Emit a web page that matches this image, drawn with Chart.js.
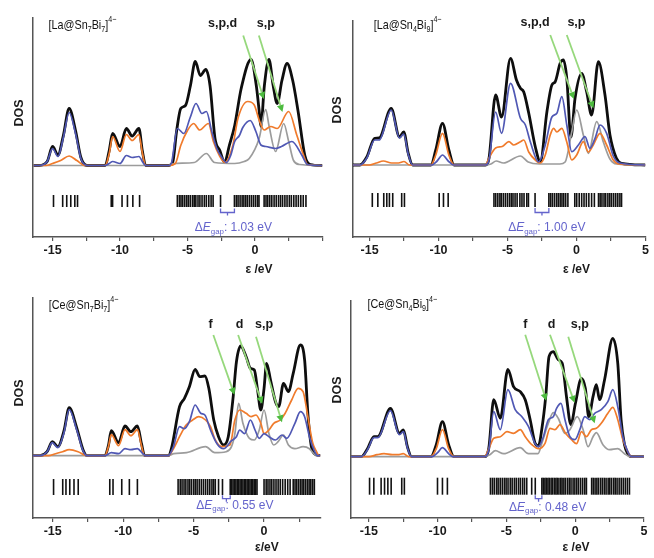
<!DOCTYPE html>
<html>
<head>
<meta charset="utf-8">
<script src="https://cdn.jsdelivr.net/npm/chart.js@4.4.1/dist/chart.umd.min.js"></script>
<style>
  html, body { margin: 0; padding: 0; background: #fff; }
  #wrap { position: relative; width: 654px; height: 558px; overflow: hidden; }
  canvas { position: absolute; }
</style>
</head>
<body>
<div id="wrap">
  <canvas id="tl" width="330" height="280" style="left:0;top:0"></canvas>
  <canvas id="tr" width="329" height="280" style="left:325px;top:0"></canvas>
  <canvas id="bl" width="330" height="278" style="left:0;top:280px"></canvas>
  <canvas id="br" width="329" height="278" style="left:325px;top:280px"></canvas>
</div>
<script>
// DOS curves, [energy eV, DOS a.u.]
const tlBlack = [[-16.4,0],[-16.0,0],[-15.4,4],[-15.0,19],[-14.6,10.5],[-14.2,30],[-13.77,57],[-13.3,35],[-12.9,8],[-12.45,0],[-11.1,0],[-10.8,15],[-10.55,32],[-10.0,19],[-9.53,37],[-9.1,29.5],[-8.6,37],[-8.35,15],[-8.1,0],[-6.4,0],[-6.1,3],[-5.8,35],[-5.5,57],[-5.15,60],[-4.78,80],[-4.42,104],[-4.05,90],[-3.64,96],[-3.33,80],[-2.96,27],[-2.6,15],[-2.25,3],[-1.9,20],[-1.5,40],[-1.02,77],[-0.29,106],[0.1,80],[0.31,55],[0.44,39],[0.7,80],[1.04,106],[1.35,80],[1.65,62],[2.0,85],[2.38,102],[2.8,85],[3.2,54],[3.7,10],[4.1,1],[5,0]];
const tlBlue = [[-16.4,0],[-16.0,0],[-15.4,4],[-15.0,17],[-14.6,9],[-14.2,28],[-13.77,53],[-13.3,32],[-12.9,7],[-12.45,0],[-11.1,0],[-10.8,2],[-10.55,4],[-10.0,2],[-9.53,10],[-9.1,8],[-8.6,9],[-8.3,3],[-8.1,0],[-6.4,0],[-6.2,2],[-5.75,37],[-5.27,32],[-4.8,48],[-4.37,62],[-3.93,52],[-3.6,54],[-3.2,34],[-2.84,17.5],[-2.5,9],[-2.1,3],[-1.8,10],[-1.5,24],[-1.15,30],[-0.9,38],[-0.35,45],[0.07,34],[0.44,20.5],[0.8,19],[1.53,17],[1.97,19],[2.74,24],[3.47,10.5],[3.9,1],[5,0]];
const tlOrange = [[-16.4,0],[-15.5,0],[-15.0,2],[-14.4,5],[-13.77,9.5],[-13.2,5],[-12.6,0],[-11.1,0],[-10.8,12],[-10.55,29],[-10.0,14],[-9.53,31],[-9.1,25],[-8.6,31],[-8.35,13],[-8.1,0],[-6.4,0],[-5.9,2],[-5.5,20],[-5.0,35],[-4.54,42],[-4.1,35.5],[-3.45,42],[-3.08,24],[-2.6,9],[-2.24,3],[-1.63,20.5],[-1.26,47],[-0.53,64],[-0.05,60.5],[0.31,45.5],[0.68,35.5],[1.17,39],[1.65,37],[2.5,54],[3.1,30.5],[3.6,10.5],[3.9,1],[5,0]];
const tlGray = [[-16.4,0],[-6.4,0],[-6.0,2],[-4.5,3],[-3.6,12],[-3.0,3],[-1.5,2],[-0.8,4],[-0.42,7],[0.31,27],[0.8,56],[1.04,40],[1.53,14],[2.13,42],[2.5,24],[2.86,5],[3.3,1],[5,0]];

const trBlack = [[-16.2,0],[-15.7,0],[-15.2,8],[-14.63,26.7],[-14.3,27],[-13.43,56.7],[-12.83,28],[-12.52,33],[-12.2,12],[-11.87,0],[-10.55,0],[-10.2,15],[-9.71,41.7],[-9.25,15],[-8.87,0],[-6.6,0],[-6.34,6.7],[-5.86,70],[-5.43,48],[-4.78,106.7],[-4.35,85],[-4.06,76.7],[-3.82,73],[-3.46,52],[-2.98,18],[-2.62,3.3],[-2.14,53.3],[-1.78,80],[-1.54,83.3],[-1.18,101.7],[-0.94,105],[-0.7,86.7],[-0.4,28],[-0.1,66.7],[0.38,91.7],[0.74,73.3],[1.1,50],[1.59,103.3],[2.07,70],[2.43,30],[2.9,6.7],[3.27,1.7],[5,0]];
const trBlue = [[-16.2,0],[-15.7,0],[-15.2,7],[-14.63,25],[-14.3,25],[-13.43,55],[-12.83,27],[-12.52,31],[-12.2,11],[-11.87,0],[-10.5,0],[-10.1,4],[-9.71,10],[-9.3,4],[-8.9,0],[-6.6,0],[-6.34,5],[-5.86,53],[-5.43,31.7],[-4.78,81.7],[-4.06,46.7],[-3.7,40],[-3.34,23],[-2.74,3],[-2.26,20],[-1.78,48],[-1.42,51.7],[-1.06,68.3],[-0.7,40],[-0.34,13.3],[0.14,20],[0.62,28.3],[0.98,16.7],[1.35,26.7],[1.71,40],[2.19,31.7],[2.67,9],[3.15,2],[5,0]];
const trOrange = [[-16.2,0],[-15.0,0],[-14.5,2],[-14.0,4],[-13.4,2],[-12.9,2],[-12.5,3.5],[-12.1,0],[-10.55,0],[-10.2,10],[-9.71,31.7],[-9.25,10],[-8.87,0],[-6.6,0],[-6.34,7],[-5.86,17],[-5.38,18.5],[-4.9,23.3],[-4.54,20],[-4.06,23.3],[-3.82,25],[-3.46,13],[-2.98,5],[-2.62,2],[-2.26,10],[-1.9,30],[-1.66,36.7],[-1.42,33],[-1.06,36.7],[-0.7,23],[-0.34,5],[0.02,10],[0.5,23.3],[0.86,13],[1.22,20],[1.71,31.7],[2.19,20],[2.67,5],[3.1,1],[5,0]];
const trGray = [[-16.2,0],[-6.6,0],[-6.2,1],[-5.82,4],[-5.3,2],[-4.06,9],[-3.5,3],[-2.7,1],[-1.2,1],[-0.82,3],[-0.34,33],[0.02,55],[0.5,30],[0.86,11.7],[1.47,43.3],[1.95,23],[2.43,6],[2.9,1],[5,0]];

const blBlack = [[-16.4,0],[-15.9,0],[-15.4,4],[-15.03,14],[-14.64,9],[-14.2,25],[-13.83,48],[-13.3,28],[-12.85,6],[-12.57,0],[-11.3,0],[-11.05,10],[-10.84,25],[-10.33,13],[-9.87,29.7],[-9.45,24],[-8.99,29.7],[-8.7,12],[-8.48,0],[-6.8,0],[-6.57,7.4],[-6.0,49],[-5.65,57.4],[-5.3,69],[-4.89,86.4],[-4.56,79],[-4.2,79.7],[-3.92,67.4],[-3.57,35.7],[-3.23,19],[-2.88,10.7],[-2.54,19],[-2.19,59],[-1.96,94],[-1.66,109.7],[-1.27,99],[-0.97,87.4],[-0.69,85.7],[-0.46,65.7],[-0.23,45.7],[0,67.4],[0.18,92.4],[0.46,75.7],[0.81,54],[1.04,49],[1.38,72.4],[1.73,64],[2.07,82.4],[2.58,110.7],[2.88,95.7],[3.11,42.4],[3.34,10.7],[3.57,2],[4.0,0]];
const blBlue = [[-16.4,0],[-15.9,0],[-15.4,4],[-15.03,13],[-14.64,8],[-14.2,23],[-13.83,46],[-13.3,26],[-12.85,5],[-12.57,0],[-11.3,0],[-10.84,3],[-10.33,2],[-9.87,7],[-9.45,6],[-8.99,7],[-8.6,2],[-8.4,0],[-6.8,0],[-6.43,9],[-6.0,29],[-5.65,27],[-5.3,34],[-4.89,50.7],[-4.5,42.4],[-4.2,40.7],[-3.8,25.7],[-3.34,12],[-2.88,7],[-2.31,15],[-1.96,19],[-1.73,25.7],[-1.38,22],[-0.97,35.7],[-0.64,25.7],[-0.34,17.4],[0,22],[0.35,19],[0.81,15.7],[1.27,20.7],[1.61,17.4],[2.19,32.4],[2.58,44],[2.88,39],[3.22,19],[3.57,5],[3.8,0],[4.0,0]];
const blOrange = [[-16.4,0],[-15.3,0],[-14.8,2],[-14.3,4],[-13.83,6],[-13.2,4],[-12.6,0],[-11.3,0],[-11.05,9],[-10.84,21],[-10.33,10],[-9.87,26],[-9.45,20],[-8.99,26],[-8.7,10],[-8.48,0],[-6.8,0],[-6.43,7],[-6.0,19],[-5.53,30.7],[-5.07,35.7],[-4.63,39],[-4.15,35.7],[-3.8,29],[-3.46,15.7],[-3.0,9],[-2.42,10.7],[-2.07,35.7],[-1.73,45.7],[-1.27,42.4],[-0.92,39],[-0.57,40.7],[-0.23,32.4],[0,22],[0.35,25.7],[0.69,32.4],[1.15,35.7],[1.5,42.4],[1.96,55.7],[2.42,67.4],[2.77,64],[3.11,39],[3.46,12.4],[3.69,5],[3.9,0],[4.0,0]];
const blGray = [[-16.4,0],[-6.8,0],[-6.4,2],[-5.5,3],[-4.15,9],[-3.5,3],[-2.7,4],[-2.31,9],[-2.07,22],[-1.8,52.4],[-1.5,32.4],[-1.04,17.4],[-0.69,15.7],[-0.34,25.7],[0,45.7],[0.35,22],[0.69,10.7],[1.0,14],[1.38,20.7],[1.73,10.7],[2.19,7],[2.77,9],[3.22,7],[3.6,1],[4.0,0]];

const brBlack = [[-16.3,0],[-15.55,0],[-15.1,8],[-14.63,20],[-14.35,20],[-13.43,48.4],[-12.78,23.4],[-12.49,26.7],[-12.2,10],[-11.89,0],[-10.49,0],[-10.1,12],[-9.65,35],[-9.2,12],[-8.81,0],[-6.6,0],[-6.28,8.4],[-5.92,57],[-5.44,38.4],[-4.89,87.4],[-4.48,70],[-3.99,65],[-3.63,57],[-3.27,37],[-2.91,13.4],[-2.67,10.7],[-2.43,27],[-2.14,60],[-1.9,100],[-1.59,105],[-1.23,97],[-0.94,93.4],[-0.63,60],[-0.31,32],[0.02,53.4],[0.46,78.4],[0.74,68.4],[0.99,40],[1.3,60],[1.54,72],[1.78,57],[2.14,77],[2.74,118.4],[3.1,93.4],[3.34,37],[3.59,12],[3.83,3],[4.1,0],[5,0]];
const brBlue = [[-16.3,0],[-15.55,0],[-15.1,7],[-14.63,19],[-14.35,19],[-13.43,46],[-12.78,22],[-12.49,25],[-12.2,9],[-11.89,0],[-10.4,0],[-10.0,4],[-9.65,9],[-9.2,3],[-8.9,0],[-6.6,0],[-6.28,7],[-5.92,45],[-5.44,27],[-4.89,67],[-4.36,47],[-3.87,40],[-3.39,30],[-2.91,13],[-2.67,10],[-2.31,20],[-1.95,37],[-1.59,40],[-1.35,48.4],[-1.03,53.4],[-0.74,37],[-0.38,20],[-0.02,17],[0.34,27],[0.7,40],[1.06,37],[1.42,43.4],[1.9,47],[2.38,55],[2.74,67],[3.1,50],[3.47,20],[3.83,5],[4.1,0],[5,0]];
const brOrange = [[-16.3,0],[-15.0,0],[-14.4,2],[-13.9,3],[-13.3,2],[-12.9,2],[-12.5,3],[-12.1,0],[-10.49,0],[-10.1,8],[-9.65,27],[-9.2,8],[-8.81,0],[-6.6,0],[-6.28,8],[-5.92,18.4],[-5.44,20],[-4.96,25],[-4.48,23.4],[-3.99,27],[-3.63,20],[-3.15,12],[-2.67,8],[-2.19,13.4],[-1.83,28.4],[-1.47,27],[-1.1,32],[-0.7,23.4],[-0.26,17],[0.1,13],[0.46,25],[0.82,20],[1.18,27],[1.54,28.4],[1.9,33.4],[2.38,43.4],[2.74,49.4],[3.1,37],[3.47,17],[3.83,5],[4.1,0],[5,0]];
const brGray = [[-16.3,0],[-6.6,0],[-6.2,2],[-5.8,6],[-5.2,3],[-4.0,9],[-3.4,3],[-2.7,3],[-2.43,13],[-1.95,33.4],[-1.59,44],[-1.23,38.4],[-0.74,23.4],[-0.38,27],[0.15,40],[0.58,27],[0.94,10],[1.3,20],[1.54,24],[2.02,12],[2.5,7],[3.1,8],[3.59,3],[4.0,0],[5,0]];

// orbital energy levels (eV)
const tlLevels = [-14.93,-14.25,-13.95,-13.65,-13.35,-13.15,-10.65,-10.55,-9.85,-9.45,-9.05,-8.55,-5.75,-5.6,-5.48,-5.35,-5.2,-5.05,-4.92,-4.78,-4.62,-4.5,-4.38,-4.22,-4.08,-3.92,-3.75,-3.6,-3.42,-3.25,-3.1,-2.55,-1.52,-1.38,-1.25,-1.1,-0.95,-0.82,-0.68,-0.55,-0.4,-0.25,-0.1,0.05,0.2,0.3,0.68,0.82,0.95,1.1,1.25,1.42,1.58,1.75,1.9,2.05,2.22,2.38,2.55,2.7,2.88,3.05,3.22,3.4,3.58,3.78];
const trLevels = [-14.8,-14.4,-13.97,-13.75,-13.56,-13.32,-12.67,-12.47,-9.95,-9.64,-9.3,-5.98,-5.85,-5.7,-5.55,-5.45,-5.3,-5.15,-5.0,-4.85,-4.72,-4.6,-4.45,-4.3,-4.1,-3.95,-3.8,-3.6,-3.48,-3.0,-2.0,-1.88,-1.75,-1.6,-1.45,-1.32,-1.18,-1.05,-0.92,-0.78,-0.62,-0.12,0.02,0.2,0.38,0.55,0.72,0.9,1.1,1.3,1.6,1.72,1.85,2.0,2.12,2.28,2.42,2.55,2.7,2.85,3.0,3.15,3.27];
const blLevels = [-14.94,-14.29,-14.06,-13.79,-13.49,-13.19,-10.95,-10.72,-10.1,-9.56,-8.99,-6.1,-5.95,-5.82,-5.68,-5.55,-5.4,-5.28,-5.15,-5.0,-4.88,-4.75,-4.6,-4.45,-4.3,-4.15,-4.0,-3.85,-3.7,-3.58,-3.46,-3.23,-2.95,-2.4,-2.3,-2.2,-2.1,-2.0,-1.9,-1.8,-1.7,-1.6,-1.5,-1.4,-1.3,-1.2,-1.1,-1.0,-0.9,-0.8,-0.7,-0.6,-0.5,0.0,0.15,0.28,0.42,0.55,0.7,0.85,1.0,1.15,1.32,1.5,1.68,1.85,2.07,2.2,2.32,2.45,2.58,2.7,2.82,2.95,3.08,3.2,3.32,3.45,3.57];
const brLevels = [-14.95,-14.64,-14.11,-13.86,-13.62,-13.38,-12.61,-12.42,-10.01,-9.65,-9.29,-6.16,-6.02,-5.88,-5.72,-5.6,-5.45,-5.3,-5.15,-5.02,-4.88,-4.72,-4.58,-4.42,-4.28,-4.12,-3.98,-3.82,-3.68,-3.52,-3.16,-2.9,-2.42,-2.32,-2.2,-2.1,-1.98,-1.88,-1.75,-1.65,-1.52,-1.4,-1.3,-1.18,-1.05,-0.95,-0.82,-0.7,-0.55,-0.42,-0.3,-0.15,-0.02,0.12,0.25,0.4,0.55,0.7,0.82,1.2,1.32,1.45,1.58,1.7,1.85,1.98,2.12,2.25,2.4,2.52,2.65,2.8,2.92,3.05,3.2,3.35,3.5,3.65,3.8,3.95];

// HOMO, LUMO and the gap text
const tlGap = [-2.55, -1.52, '1.03'];
const trGap = [-3.0, -2.0, '1.00'];
const blGap = [-2.95, -2.4, '0.55'];
const brGap = [-2.9, -2.42, '0.48'];

// orbital labels [text, energy, dos] and arrows [e1, d1, e2, d2]
const tlNotes = [['s,p,d', -2.4, 142], ['s,p', 0.8, 142]];
const tlArrows = [[-0.87, 130, 0.66, 66.5], [0.29, 130, 2.04, 53.5]];
const trNotes = [['s,p,d', -3.0, 142], ['s,p', 0.0, 142]];
const trArrows = [[-1.9, 130, -0.18, 66], [-0.7, 130, 1.23, 56.7]];
const blNotes = [['f', -3.8, 131], ['d', -1.73, 131], ['s,p', 0.0, 131]];
const blArrows = [[-3.6, 120.7, -2.1, 61], [-1.84, 120.7, -0.13, 52], [-0.57, 119, 1.27, 33.5]];
const brNotes = [['f', -3.63, 132], ['d', -1.71, 132], ['s,p', 0.34, 132]];
const brArrows = [[-3.63, 122, -2.1, 56], [-1.83, 122, -0.04, 54], [-0.5, 120, 1.42, 33.4]];

const FONT = '"Liberation Sans", Arial, sans-serif';

function pts(a) { return a.map(p => ({ x: p[0], y: p[1] })); }

function titleParts(el, a, b) {
  return [{ t: '[' + el + '@Sn' }, { t: a, sub: 1 }, { t: 'Bi' }, { t: b, sub: 1 }, { t: ']' }, { t: '4\u2212', sup: 1 }];
}

function fontOf(p, size) {
  const s = (p.sub || p.sup) ? size * 0.66 : size;
  return (p.it ? 'italic ' : '') + s + 'px ' + FONT;
}

function richWidth(ctx, parts, size) {
  let w = 0;
  for (const p of parts) {
    ctx.font = fontOf(p, size);
    w += ctx.measureText(p.t).width;
  }
  return w;
}

// text with sub/superscripts, left edge at x, squeezed horizontally by sx
function rich(ctx, parts, x, y, size, color, sx) {
  ctx.save();
  ctx.translate(x, y);
  ctx.scale(sx, 1);
  let cx = 0;
  ctx.fillStyle = color;
  ctx.textAlign = 'left';
  ctx.textBaseline = 'middle';
  for (const p of parts) {
    ctx.font = fontOf(p, size);
    const dy = p.sub ? size * 0.3 : p.sup ? -size * 0.38 : 0;
    ctx.fillText(p.t, cx, dy);
    cx += ctx.measureText(p.t).width;
  }
  ctx.restore();
}

function arrow(ctx, x1, y1, x2, y2) {
  const ang = Math.atan2(y2 - y1, x2 - x1);
  const hl = 7, hw = 3.6;
  ctx.strokeStyle = '#96d87c';
  ctx.lineWidth = 1.8;
  ctx.beginPath();
  ctx.moveTo(x1, y1);
  ctx.lineTo(x2 - hl * Math.cos(ang), y2 - hl * Math.sin(ang));
  ctx.stroke();
  ctx.fillStyle = '#4dbb3f';
  ctx.beginPath();
  ctx.moveTo(x2, y2);
  ctx.lineTo(x2 - hl * Math.cos(ang) + hw * Math.sin(ang), y2 - hl * Math.sin(ang) - hw * Math.cos(ang));
  ctx.lineTo(x2 - hl * Math.cos(ang) - hw * Math.sin(ang), y2 - hl * Math.sin(ang) + hw * Math.cos(ang));
  ctx.closePath();
  ctx.fill();
}

// draws titles, labels, arrows and the gap bracket
const extras = {
  id: 'extras',
  afterDatasetsDraw(chart) {
    const c = chart.config.options.plugins.extras;
    const ctx = chart.ctx, xs = chart.scales.x, ys = chart.scales.y, area = chart.chartArea;
    const X = v => xs.getPixelForValue(v), Y = v => ys.getPixelForValue(v);
    ctx.save();
    rich(ctx, c.title, X(c.titlePos[0]), Y(c.titlePos[1]), 13.5, '#111', 0.8);

    ctx.save();
    ctx.translate(area.left - c.dos[0], Y(c.dos[1]));
    ctx.rotate(-Math.PI / 2);
    ctx.font = 'bold 12.5px ' + FONT;
    ctx.fillStyle = '#1a1a1a';
    ctx.textAlign = 'center';
    ctx.textBaseline = 'middle';
    ctx.fillText('DOS', 0, 0);
    ctx.restore();

    ctx.font = 'bold 12px ' + FONT;
    ctx.fillStyle = '#1a1a1a';
    ctx.textAlign = 'center';
    ctx.textBaseline = 'middle';
    ctx.fillText(c.xTitle[2], X(c.xTitle[0]), area.bottom + c.xTitle[1]);

    for (const a of c.arrows) arrow(ctx, X(a[0]), Y(a[1]), X(a[2]), Y(a[3]));
    ctx.font = 'bold 12.5px ' + FONT;
    ctx.fillStyle = '#1a1a1a';
    for (const n of c.notes) ctx.fillText(n[0], X(n[1]), Y(n[2]));

    const [h, l, txt] = c.gap;
    const b = c.bracket;
    ctx.strokeStyle = '#6464cc';
    ctx.lineWidth = 1.3;
    ctx.beginPath();
    ctx.moveTo(X(h), Y(b[0]));
    ctx.lineTo(X(h), Y(b[1]));
    ctx.lineTo(X(l), Y(b[1]));
    ctx.lineTo(X(l), Y(b[0]));
    ctx.moveTo((X(h) + X(l)) / 2, Y(b[1]));
    ctx.lineTo((X(h) + X(l)) / 2, Y(b[2]));
    ctx.stroke();

    const parts = [{ t: '\u0394' }, { t: 'E', it: 1 }, { t: 'gap', sub: 1 }, { t: ': ' + txt + ' eV' }];
    const w = richWidth(ctx, parts, 12);
    rich(ctx, parts, X(c.gapLabel[0]) - w / 2, Y(c.gapLabel[1]), 12, '#6464cc', 1);
    ctx.restore();
  }
};

function makePanel(p) {
  new Chart(document.getElementById(p.id), {
    type: 'line',
    data: {
      datasets: [
        { data: pts(p.black), borderColor: '#0e0e0e', borderWidth: 2.8, order: 4 },
        { data: pts(p.gray), borderColor: '#9c9c9c', borderWidth: 1.7, order: 3 },
        { data: pts(p.orange), borderColor: '#f07b2c', borderWidth: 1.7, order: 2 },
        { data: pts(p.blue), borderColor: '#5058b4', borderWidth: 1.7, order: 1 },
        {
          type: 'scatter', order: 0,
          data: p.levels.map(e => ({ x: e, y: p.stick[0] })),
          pointStyle: 'line', pointRotation: 90, pointRadius: p.stick[1],
          pointBorderColor: '#111', pointBorderWidth: 1.6, pointBackgroundColor: '#111'
        }
      ]
    },
    options: {
      responsive: false,
      animation: false,
      events: [],
      layout: { padding: { left: p.pad[0], right: p.pad[1], top: p.pad[2], bottom: 0 } },
      elements: {
        line: { fill: false, cubicInterpolationMode: 'monotone' },
        point: { radius: 0 }
      },
      scales: {
        x: {
          type: 'linear', min: p.xr[0], max: p.xr[1],
          border: { color: '#555', width: 1.5 },
          grid: { drawOnChartArea: false, drawTicks: true, tickLength: 4, color: '#555', lineWidth: 1.2 },
          afterBuildTicks: s => {
            s.ticks = s.ticks.filter(t => Math.abs(t.value / 2.5 - Math.round(t.value / 2.5)) < 1e-6);
          },
          ticks: {
            stepSize: 2.5, includeBounds: false, autoSkip: false, maxRotation: 0, padding: 2, color: '#1a1a1a',
            font: { family: FONT, size: 12.5, weight: 'bold' },
            callback: v => (Math.abs(v % 5) < 1e-6 && !(p.hide5 && v === 5)) ? String(v) : ''
          },
          afterFit: s => { s.height = p.xh; s.paddingLeft = 0; s.paddingRight = 0; }
        },
        y: {
          min: p.yr[0], max: p.yr[1],
          border: { color: '#555', width: 1.5 },
          grid: { display: false },
          ticks: { display: false },
          afterFit: s => { s.width = 0; s.paddingTop = 0; s.paddingBottom = 0; }
        }
      },
      plugins: {
        legend: { display: false },
        tooltip: { enabled: false },
        extras: {
          title: p.title, titlePos: p.titlePos, dos: p.dos, xTitle: p.xTitle,
          notes: p.notes, arrows: p.arrows, gap: p.gap, bracket: p.bracket, gapLabel: p.gapLabel
        }
      }
    },
    plugins: [extras]
  });
}

makePanel({ id: 'tl', title: titleParts('La', '7', '7'), xr: [-16.45, 5], yr: [-71.5, 147.5], pad: [33, 2, 18], xh: 43, hide5: true,
  black: tlBlack, blue: tlBlue, orange: tlOrange, gray: tlGray, levels: tlLevels, stick: [-35.5, 6],
  titlePos: [-15.3, 140.5], dos: [13, 52.5], xTitle: [0.3, 33, '\u03b5 /eV'], notes: tlNotes, arrows: tlArrows,
  gap: tlGap, bracket: [-43, -47, -50], gapLabel: [-1.6, -62.5] });
makePanel({ id: 'tr', title: titleParts('La', '4', '9'), xr: [-16.2, 5], yr: [-72, 144], pad: [28, 6, 21], xh: 43,
  black: trBlack, blue: trBlue, orange: trOrange, gray: trGray, levels: trLevels, stick: [-35, 7],
  titlePos: [-14.7, 140], dos: [15, 55], xTitle: [0, 33, '\u03b5 /eV'], notes: trNotes, arrows: trArrows,
  gap: trGap, bracket: [-43, -47.5, -50.5], gapLabel: [-2.15, -63] });
makePanel({ id: 'bl', title: titleParts('Ce', '7', '7'), xr: [-16.4, 4.0], yr: [-62.3, 157.7], pad: [33, 2, 18], xh: 40,
  black: blBlack, blue: blBlue, orange: blOrange, gray: blGray, levels: blLevels, stick: [-31.3, 8],
  titlePos: [-15.28, 150.7], dos: [13, 62.7], xTitle: [0.2, 30, '\u03b5/eV'], notes: blNotes, arrows: blArrows,
  gap: blGap, bracket: [-39.5, -43, -46], gapLabel: [-2.07, -50] });
makePanel({ id: 'br', title: titleParts('Ce', '4', '9'), xr: [-16.3, 5], yr: [-61.3, 155.7], pad: [26, 7, 21], xh: 40,
  black: brBlack, blue: brBlue, orange: brOrange, gray: brGray, levels: brLevels, stick: [-29.5, 8.5],
  titlePos: [-15.1, 152], dos: [13, 66.7], xTitle: [0.07, 30, '\u03b5 /eV'], notes: brNotes, arrows: brArrows,
  gap: brGap, bracket: [-38.5, -42, -45], gapLabel: [-2.0, -50.5] });
</script>
</body>
</html>
